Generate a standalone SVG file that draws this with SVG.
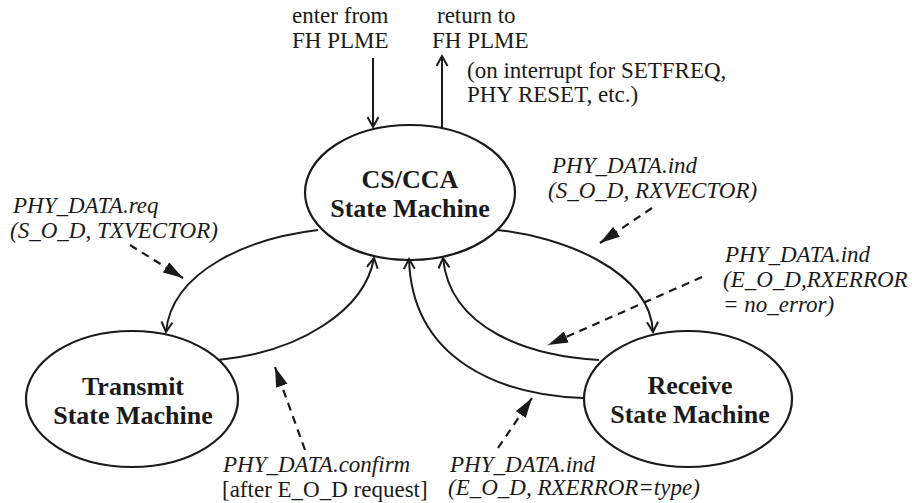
<svg xmlns="http://www.w3.org/2000/svg" width="912" height="503" viewBox="0 0 912 503" font-family="'Liberation Serif', 'Times New Roman', Times, 'DejaVu Serif', serif">
<defs>
<style>
.node{fill:none;stroke:#1a1a1a;stroke-width:2.2}
text{font-family:'Liberation Serif','Times New Roman',Times,'DejaVu Serif',serif;fill:#1a1a1a}
.lbl{font-weight:bold;font-size:26px;text-anchor:middle}
.t{font-size:23px}
.i{font-style:italic}
.c{fill:none;stroke:#1a1a1a;stroke-width:2}
.d{fill:none;stroke:#1a1a1a;stroke-width:2.2;stroke-dasharray:8 6}
</style>
<marker id="open" markerUnits="userSpaceOnUse" markerWidth="14" markerHeight="14" refX="11" refY="6" orient="auto">
<path d="M1,0.5 L11,6 L1,11.5" fill="none" stroke="#1a1a1a" stroke-width="2"/>
</marker>
<marker id="fill" markerUnits="userSpaceOnUse" markerWidth="22" markerHeight="14" refX="20" refY="6" orient="auto">
<path d="M0,0 L20,6 L0,12 Z" fill="#1a1a1a"/>
</marker>
</defs>
<rect width="912" height="503" fill="#ffffff"/>

<g id="cs-cca">
<ellipse class="node" cx="410" cy="192.5" rx="105" ry="67.5"/>
<text class="lbl" x="410" y="188">CS/CCA</text>
<text class="lbl" x="410" y="217">State Machine</text>
</g>
<g id="transmit">
<ellipse class="node" cx="132" cy="399" rx="106" ry="68"/>
<text class="lbl" x="133" y="395">Transmit</text>
<text class="lbl" x="133" y="424">State Machine</text>
</g>
<g id="receive">
<ellipse class="node" cx="688" cy="399" rx="104" ry="68"/>
<text class="lbl" x="690" y="394">Receive</text>
<text class="lbl" x="690" y="423">State Machine</text>
</g>

<g id="connectors">
<path class="c" d="M373,58 L373,127" marker-end="url(#open)"/>
<path class="c" d="M442,128 L442,56" marker-end="url(#open)"/>
<path class="c" d="M318,230 C250,238 172,270 166,332" marker-end="url(#open)"/>
<path class="c" d="M218,360 C300,352 365,310 374,258" marker-end="url(#open)"/>
<path class="c" d="M497,230 C560,236 650,270 653,332" marker-end="url(#open)"/>
<path class="c" d="M599,360 C530,356 450,330 443,258" marker-end="url(#open)"/>
<path class="c" d="M583,398 C500,395 412,360 409,259" marker-end="url(#open)"/>
<path class="d" d="M130,245 L183,278" marker-end="url(#fill)"/>
<path class="d" d="M305,450 L275,367" marker-end="url(#fill)"/>
<path class="d" d="M652,208 L600,243" marker-end="url(#fill)"/>
<path class="d" d="M702,277 L548,345" marker-end="url(#fill)"/>
<path class="d" d="M498,448 L532,398" marker-end="url(#fill)"/>
</g>

<g id="labels">
<text class="t" x="292" y="23">enter from</text>
<text class="t" x="292" y="48">FH PLME</text>
<text class="t" x="437" y="23">return to</text>
<text class="t" x="432" y="48">FH PLME</text>
<text class="t" x="467" y="78">(on interrupt for SETFREQ,</text>
<text class="t" x="467" y="102">PHY RESET, etc.)</text>
<text class="t i" x="13" y="213">PHY_DATA.req</text>
<text class="t i" x="10" y="238">(S_O_D, TXVECTOR)</text>
<text class="t i" x="552" y="173">PHY_DATA.ind</text>
<text class="t i" x="548" y="198">(S_O_D, RXVECTOR)</text>
<text class="t i" x="725" y="262">PHY_DATA.ind</text>
<text class="t i" x="723" y="287">(E_O_D,RXERROR</text>
<text class="t i" x="723" y="312">= no_error)</text>
<text class="t i" x="223" y="472">PHY_DATA.confirm</text>
<text class="t" x="222" y="497">[after E_O_D request]</text>
<text class="t i" x="450" y="472">PHY_DATA.ind</text>
<text class="t i" x="448" y="495">(E_O_D, RXERROR=type)</text>
</g>
</svg>
